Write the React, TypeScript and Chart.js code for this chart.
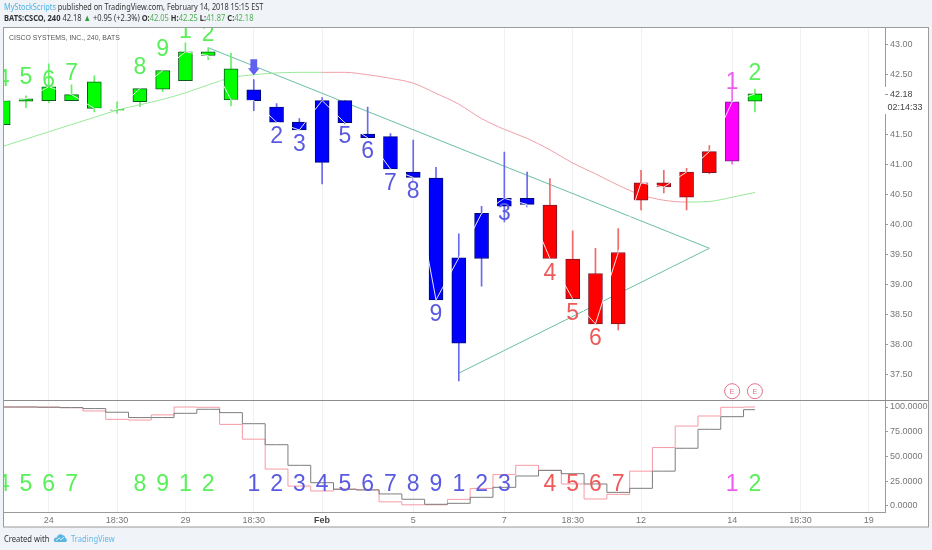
import React, { useEffect, useRef } from "react";
import { Chart, registerables } from "chart.js";

Chart.register(...registerables);

const bars = [0,1,2,3,4,5,6,7,8,9,10,11,12,13,14,15,16,17,18,19,20,21,22,23,24,25,26,27,28,29,30,31,32,33];
const openP = [41.67,42.06,42.07,42.07,42.38,41.91,42.05,42.26,42.40,42.88,42.60,42.25,41.96,41.71,41.04,42.07,41.51,41.47,40.88,40.78,38.03,39.44,40.31,40.44,40.33,39.43,39.19,38.35,40.41,40.70,40.46,40.87,41.06,42.06];
const closeP = [42.07,42.10,42.30,42.17,41.94,41.92,42.27,42.57,42.88,42.82,42.08,42.07,41.71,41.58,42.07,41.70,41.45,40.93,40.79,38.75,39.45,40.19,40.44,40.34,39.44,38.77,38.35,39.54,40.70,40.63,40.88,41.22,42.05,42.18];
const highP = [42.07,42.15,42.68,42.33,42.48,42.05,42.27,42.57,43.03,42.95,42.86,42.42,42.02,41.77,42.12,42.07,41.96,41.52,41.41,40.96,39.85,40.31,41.21,40.88,40.77,39.90,39.61,39.94,40.91,40.91,40.94,41.32,42.27,42.26];
const lowP = [41.67,41.95,42.03,42.07,41.88,41.86,41.97,42.22,42.40,42.75,41.98,41.90,41.71,41.58,40.68,41.68,41.45,40.93,40.72,38.75,37.40,38.98,40.05,40.30,39.44,38.77,38.35,38.25,40.25,40.53,40.25,40.85,41.01,41.88];
const phase = ["g","g","g","g","g","g","g","g","g","g","g","b","b","b","b","b","b","b","b","b","b","b","b","b","r","r","r","r","r","r","r","r","m","g"];
const maP = [41.31,41.43,41.55,41.67,41.79,41.91,42.00,42.09,42.20,42.33,42.45,42.50,42.53,42.54,42.54,42.54,42.50,42.44,42.36,42.19,42.01,41.77,41.59,41.44,41.25,41.03,40.85,40.66,40.50,40.41,40.38,40.39,40.46,40.54];
const stochGray = [100,100,99.7,99.4,98.4,94.7,89.3,89.3,93.6,97.7,94.3,83.1,61.8,40.9,23.3,16.6,15.9,11.9,6.5,1.4,2.4,8.5,18.6,30.1,35.8,32.4,22,13.5,17.6,35,58.2,77.4,90.2,97.3];
const stochPink = [100,100,100,99.3,96,87.5,86.8,92,100,99.7,82.4,67.4,37.1,19.9,14.9,16.9,16.2,3.9,0.9,0.9,6.4,17.5,31.5,40.9,35.8,22,6.8,11.5,35,58.9,80.7,90.9,99.7,100];
const trendBars = [9,31,20];
const trendP = [42.95,39.61,37.53];
const labelBars = [0,1,2,3,6,7,8,9,12,13,15,16,17,18,19,22,24,25,26,32,33];
const labelTexts = ["4","5","6","7","8","9","1","2","2","3","5","6","7","8","9","3","4","5","6","1","2"];
const labelP = [42.31,42.35,42.30,42.41,42.51,42.81,43.12,43.07,41.36,41.23,41.36,41.11,40.58,40.44,38.40,40.08,39.08,38.41,38.00,42.27,42.41];
const lowerBars = [0,1,2,3,6,7,8,9,11,12,13,14,15,16,17,18,19,20,21,22,24,25,26,27,32,33];
const lowerTexts = ["4","5","6","7","8","9","1","2","1","2","3","4","5","6","7","8","9","1","2","3","4","5","6","7","1","2"];
const lowerValue = 14.9;
const arrowBar = 11;
const arrowTopP = 42.76;
const earningsBars = [32,33];
const earningsP = 37.23;
const priceTicks = [43,42.5,42,41.5,41,40.5,40,39.5,39,38.5,38,37.5];
const stochTicks = [100,75,50,25,0];
const timeBars = [2,5,8,11,14,18,22,25,28,32,35,38];
const timeLabels = ["24","18:30","29","18:30","Feb","5","7","18:30","12","14","18:30","19"];
const lastPrice = 42.18;
const countdown = "02:14:33";
const chartTitle = "CISCO SYSTEMS, INC., 240, BATS";

const bodyColor: Record<string,string> = { g: "#00ff00", b: "#0000ff", r: "#ff0000", m: "#ff00ff" };
const edgeColor: Record<string,string> = { g: "#0d5c1d", b: "#000a70", r: "#7a1a2a", m: "#6a2a7a" };
const wickColor: Record<string,string> = { g: "#66f066", b: "#6a6af0", r: "#f06a6a", m: "#f06af0" };
const textColor: Record<string,string> = { g: "#58f058", b: "#5a5ae0", r: "#ee5a5a", m: "#ee5aee" };
const FONT = "'Liberation Sans', Arial, sans-serif";

const overlay = {
  id: "overlay",
  beforeDraw(chart: any) {
    const { ctx } = chart;
    ctx.save();
    ctx.fillStyle = "#ffffff";
    ctx.fillRect(3.5, 27, 925, 500);
    ctx.restore();
  },
  afterDraw(chart: any) {
    const { ctx, scales, chartArea } = chart;
    const xs = scales.x, ys = scales.y, y2 = scales.y2;
    ctx.save();
    ctx.beginPath();
    ctx.rect(chartArea.left, chartArea.top, chartArea.right - chartArea.left, chartArea.bottom - chartArea.top);
    ctx.clip();
    ctx.textAlign = "center";
    ctx.textBaseline = "alphabetic";
    ctx.font = `23px ${FONT}`;
    labelBars.forEach((b, i) => {
      ctx.fillStyle = textColor[phase[b]];
      ctx.fillText(labelTexts[i], xs.getPixelForValue(b), ys.getPixelForValue(labelP[i]));
    });
    lowerBars.forEach((b, i) => {
      ctx.fillStyle = textColor[phase[b]];
      ctx.fillText(lowerTexts[i], xs.getPixelForValue(b), y2.getPixelForValue(lowerValue));
    });
    // signal arrow
    const ax = xs.getPixelForValue(arrowBar), ay = ys.getPixelForValue(arrowTopP);
    ctx.fillStyle = "#5f5ff0";
    ctx.beginPath();
    ctx.moveTo(ax - 3.4, ay); ctx.lineTo(ax + 3.4, ay); ctx.lineTo(ax + 3.4, ay + 9);
    ctx.lineTo(ax + 5.8, ay + 9); ctx.lineTo(ax, ay + 16); ctx.lineTo(ax - 5.8, ay + 9); ctx.lineTo(ax - 3.4, ay + 9);
    ctx.closePath(); ctx.fill();
    // earnings marks
    ctx.fillStyle = "#e2728a";
    ctx.font = `7px ${FONT}`;
    ctx.textBaseline = "middle";
    earningsBars.forEach((b) => ctx.fillText("E", xs.getPixelForValue(b), ys.getPixelForValue(earningsP) + 0.5));
    ctx.restore();

    // pane separator and frame
    ctx.save();
    ctx.strokeStyle = "#8c8c8c";
    ctx.lineWidth = 1;
    ctx.beginPath();
    ctx.moveTo(4, 400.5); ctx.lineTo(928, 400.5);
    ctx.stroke();
    ctx.strokeStyle = "#9a9a9a";
    ctx.strokeRect(3.5, 27.5, 925, 499.5);
    // last price label
    const py = ys.getPixelForValue(lastPrice);
    ctx.fillStyle = "#ffffff";
    ctx.fillRect(884, py - 7, 44, 27);
    ctx.strokeStyle = "#999";
    ctx.beginPath(); ctx.moveTo(885, py + 0.5); ctx.lineTo(888, py + 0.5); ctx.stroke();
    ctx.textAlign = "left";
    ctx.textBaseline = "middle";
    ctx.font = `9px ${FONT}`;
    ctx.fillStyle = "#444";
    ctx.fillText(lastPrice.toFixed(2), 890, py + 0.5);
    ctx.fillText(countdown, 887.5, py + 14);
    // title
    ctx.fillStyle = "#555";
    ctx.font = `8px ${FONT}`;
    ctx.translate(9, 38);
    ctx.scale(0.86, 1);
    ctx.fillText(chartTitle, 0, 0);
    ctx.restore();
  },
};

export default function App() {
  const ref = useRef<HTMLCanvasElement>(null);
  useEffect(() => {
    if (!ref.current) return;
    const chart = new Chart(ref.current, {
      type: "bar",
      data: {
        datasets: [
          {
            type: "line",
            label: "Close",
            data: bars.map((b, i) => ({ x: b, y: closeP[i] })),
            borderColor: "rgba(255,255,255,0.9)",
            borderWidth: 1,
            pointRadius: 0,
            yAxisID: "y",
            order: 1,
          },
          {
            type: "bar",
            label: "Body",
            data: bars.map((b, i) => ({ x: b, y: [openP[i], closeP[i]] })),
            backgroundColor: phase.map((p) => bodyColor[p]),
            borderColor: phase.map((p) => edgeColor[p]),
            borderWidth: 1,
            borderSkipped: false,
            barThickness: 14,
            grouped: false,
            yAxisID: "y",
            order: 2,
          },
          {
            type: "bar",
            label: "Wick",
            data: bars.map((b, i) => ({ x: b, y: [lowP[i], highP[i]] })),
            backgroundColor: phase.map((p) => wickColor[p]),
            borderWidth: 0,
            barThickness: 1,
            grouped: false,
            yAxisID: "y",
            order: 3,
          },
          {
            type: "line",
            label: "Average",
            data: bars.map((b, i) => ({ x: b, y: maP[i] })),
            borderColor: "#9be99b",
            borderWidth: 1,
            pointRadius: 0,
            cubicInterpolationMode: "monotone",
            segment: {
              borderColor: (c: any) => (c.p0DataIndex >= 14 && c.p0DataIndex < 30 ? "#f0a0a8" : "#9be99b"),
            },
            yAxisID: "y",
            order: 4,
          },
          {
            type: "line",
            label: "Trend",
            data: trendBars.map((b, i) => ({ x: b, y: trendP[i] })),
            borderColor: "#6bbfa6",
            borderWidth: 1,
            pointRadius: 0,
            yAxisID: "y",
            order: 5,
          },
          {
            type: "line",
            label: "Earnings",
            data: earningsBars.map((b) => ({ x: b, y: earningsP })),
            showLine: false,
            pointRadius: 7.5,
            pointBorderWidth: 1,
            pointBorderColor: "#e2728a",
            pointBackgroundColor: "#ffffff",
            yAxisID: "y",
            order: 0,
          },
          {
            type: "line",
            label: "%K",
            data: bars.map((b, i) => ({ x: b, y: stochPink[i] })),
            borderColor: "#f59aa4",
            borderWidth: 1,
            pointRadius: 0,
            stepped: "middle",
            yAxisID: "y2",
            order: 7,
          },
          {
            type: "line",
            label: "%D",
            data: bars.map((b, i) => ({ x: b, y: stochGray[i] })),
            borderColor: "#7d7d7d",
            borderWidth: 1,
            pointRadius: 0,
            stepped: "middle",
            yAxisID: "y2",
            order: 6,
          },
        ] as any,
      },
      options: {
        responsive: false,
        animation: false,
        events: [],
        layout: { autoPadding: false, padding: { left: 4, top: 27, right: 4, bottom: 23 } },
        plugins: { legend: { display: false }, tooltip: { enabled: false } },
        scales: {
          x: {
            type: "linear",
            offset: false,
            min: 0.035,
            max: 38.71,
            grid: { offset: false, color: "#f0f1f3", drawTicks: false, lineWidth: 1 },
            border: { color: "#9a9a9a" },
            afterBuildTicks: (s: any) => { s.ticks = timeBars.map((v) => ({ value: v })); },
            afterFit: (s: any) => { s.height = 15; s.paddingLeft = 0; s.paddingRight = 0; },
            ticks: {
              autoSkip: false,
              maxRotation: 0,
              padding: 3,
              color: (c: any) => (c.tick && c.tick.value === 14 ? "#444" : "#777"),
              font: (c: any) => ({ family: FONT, size: 9, weight: c.tick && c.tick.value === 14 ? "bold" : "normal" }),
              callback: (v: any) => timeLabels[timeBars.indexOf(Number(v))] ?? "",
            },
          },
          y: {
            type: "linear",
            position: "right",
            stack: "panes",
            stackWeight: 373.5,
            weight: 1,
            min: 37.075,
            max: 43.295,
            grid: { drawOnChartArea: false, tickLength: 3, color: "#9a9a9a" },
            border: { color: "#9a9a9a" },
            afterBuildTicks: (s: any) => { s.ticks = priceTicks.map((v) => ({ value: v })); },
            afterFit: (s: any) => { s.width = 43; },
            ticks: { padding: 2, color: "#777", font: { family: FONT, size: 9 }, callback: (v: any) => Number(v).toFixed(2) },
          },
          y2: {
            type: "linear",
            position: "right",
            stack: "panes",
            stackWeight: 111.5,
            weight: 2,
            min: -6.4,
            max: 106.6,
            grid: { drawOnChartArea: false, tickLength: 3, color: "#9a9a9a" },
            border: { color: "#9a9a9a" },
            afterBuildTicks: (s: any) => { s.ticks = stochTicks.map((v) => ({ value: v })); },
            afterFit: (s: any) => { s.width = 43; },
            ticks: { padding: 2, color: "#777", font: { family: FONT, size: 9 }, callback: (v: any) => Number(v).toFixed(4) },
          },
        },
      } as any,
      plugins: [overlay],
    });
    return () => chart.destroy();
  }, []);

  const base: React.CSSProperties = { position: "absolute", whiteSpace: "pre", fontFamily: "'Noto Sans', sans-serif", fontSize: 9.5, color: "#333", transformOrigin: "left top" };
  const green = { color: "#4caf50" };
  return (
    <div style={{ position: "absolute", left: 0, top: 0, width: 932, height: 550, background: "#f0f3f8", overflow: "hidden" }}>
      <canvas ref={ref} width={932} height={550} style={{ position: "absolute", left: 0, top: 0, display: "block" }} />
      <div style={{ ...base, left: 4, top: 0, transform: "scaleX(0.77)" }}>
        <span style={{ color: "#4fb0e5" }}>MyStockScripts</span> published on TradingView.com, February 14, 2018 15:15 EST
      </div>
      <div style={{ ...base, left: 4, top: 11, transform: "scaleX(0.79)" }}>
        <b>BATS:CSCO, 240</b> 42.18 <span style={{ color: "#2e9e3e" }}>▲</span> +0.95 (+2.3%) <b>O:</b><span style={green}>42.05</span> <b>H:</b><span style={green}>42.25</span> <b>L:</b><span style={green}>41.87</span> <b>C:</b><span style={green}>42.18</span>
      </div>
      <div style={{ ...base, left: 4, top: 532, transform: "scaleX(0.8)" }}>Created with</div>
      <svg width="15" height="10" viewBox="0 0 15 11" style={{ position: "absolute", left: 52.5, top: 533 }}>
        <path d="M1 10 C-1 7 1 4.5 3.5 5 C4 1.5 8 0 10 2.5 C12 2.5 13 4.5 12.5 5.5 C15 6 15 9 13.5 10 Z" fill="#5ab6e0" />
        <path d="M2.5 8.5 L6 5.5 L8 7.5 L11.5 4.5" stroke="#f0f3f8" strokeWidth="1" fill="none" />
      </svg>
      <div style={{ ...base, left: 70.5, top: 532, color: "#62b8e6", transform: "scaleX(0.8)" }}>TradingView</div>
    </div>
  );
}
